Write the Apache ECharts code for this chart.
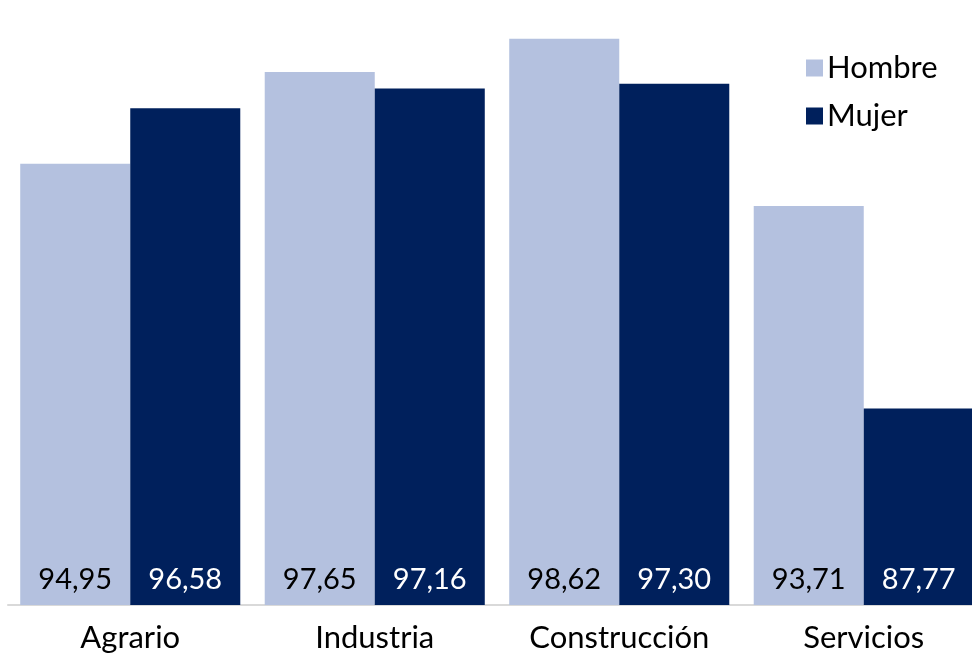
<!DOCTYPE html>
<html>
<head>
<meta charset="utf-8">
<script src="https://cdn.jsdelivr.net/npm/echarts@6/dist/echarts.min.js"></script>
<style>html,body{margin:0;padding:0;background:#fff;overflow:hidden;width:972px;height:654px;}#c{width:986px;height:654px;}</style>
</head>
<body>
<div id="c"></div>
<script>
var categories = ['Agrario', 'Industria', 'Construcción', 'Servicios'];
var hombre = [94.95, 97.65, 98.62, 93.71];
var mujer = [96.58, 97.16, 97.30, 87.77];
var seriesNames = ['Hombre', 'Mujer'];

var FONT = 'Lato';
var chart = echarts.init(document.getElementById('c'), null, {renderer: 'canvas'});
function fmt(p) { return p.value.toFixed(2).replace('.', ','); }
chart.setOption({
  animation: false,
  textStyle: {fontFamily: FONT},
  grid: {left: 8, right: 0, top: 0, bottom: 49, containLabel: false},
  legend: {
    orient: 'vertical', left: 801, top: 47,
    itemWidth: 17, itemHeight: 17, itemGap: 16,
    data: seriesNames,
    textStyle: {fontSize: 31, color: '#000', fontFamily: FONT, lineHeight: 32, padding: [0, 0, 0, -1]},
    icon: 'rect'
  },
  xAxis: {
    type: 'category', data: categories,
    axisLine: {lineStyle: {color: '#d9d9d9', width: 2}},
    axisTick: {show: false},
    axisLabel: {fontSize: 31, color: '#000', margin: 17, fontFamily: FONT}
  },
  yAxis: {type: 'value', min: 82, max: 99.76, show: false, splitLine: {show: false}},
  series: [
    {
      name: seriesNames[0], type: 'bar', data: hombre,
      barGap: '0%', barCategoryGap: '10%',
      itemStyle: {color: '#b4c1df'},
      label: {show: true, position: 'insideBottom', distance: 11, formatter: fmt, fontSize: 29, color: '#000', fontFamily: FONT}
    },
    {
      name: seriesNames[1], type: 'bar', data: mujer,
      barGap: '0%', barCategoryGap: '10%',
      itemStyle: {color: '#00205c'},
      label: {show: true, position: 'insideBottom', distance: 11, formatter: fmt, fontSize: 29, color: '#fff', fontFamily: FONT}
    }
  ]
});
</script>
</body>
</html>
